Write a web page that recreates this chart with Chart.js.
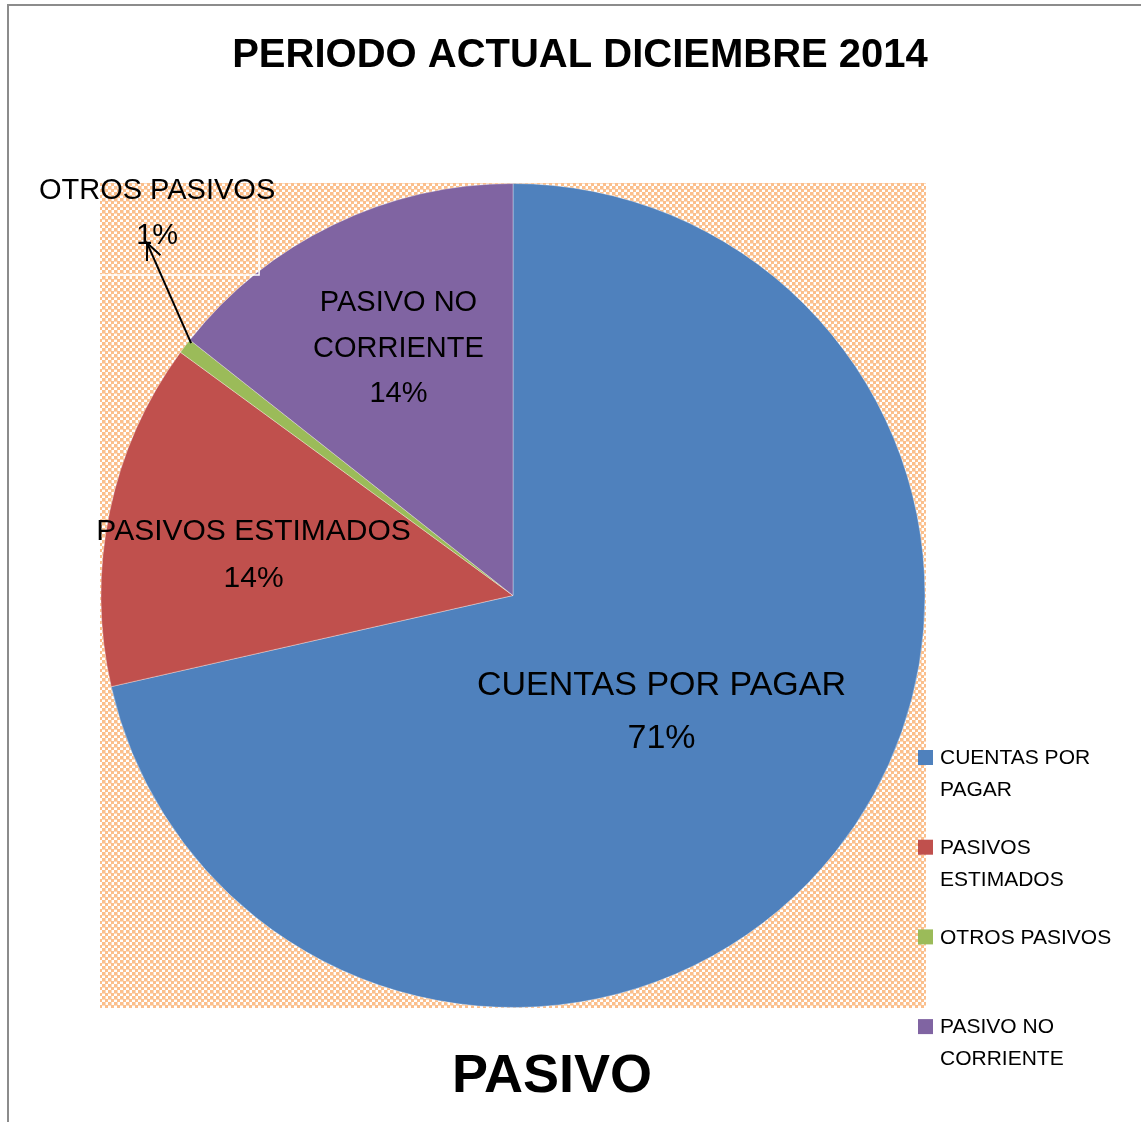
<!DOCTYPE html>
<html>
<head>
<meta charset="utf-8">
<script src="https://cdn.jsdelivr.net/npm/chart.js@4"></script>
<style>
  html, body { margin: 0; padding: 0; background: #ffffff; }
  #wrap { position: absolute; left: 0; top: 0; width: 1141px; height: 1122px; }
</style>
</head>
<body>
<div id="wrap"><canvas id="c" width="1141" height="1122"></canvas></div>
<script>
// ---- data ----
const categories = ['CUENTAS POR PAGAR', 'PASIVOS ESTIMADOS', 'OTROS PASIVOS', 'PASIVO NO CORRIENTE'];
const values = [71.45, 13.6, 0.6, 14.35];
const sliceColors = ['#4F81BD', '#C0504D', '#9BBB59', '#8064A2'];
const chartTitle = 'PERIODO ACTUAL DICIEMBRE 2014';
const bottomTitle = 'PASIVO';

const FONT = '"Liberation Sans", Arial, sans-serif';

function makePattern(ctx) {
  const t = document.createElement('canvas');
  t.width = 6; t.height = 6;
  const g = t.getContext('2d');
  g.fillStyle = '#FFFFFF';
  g.fillRect(0, 0, 6, 6);
  g.fillStyle = '#FBBF8C';
  g.fillRect(0, 0, 3, 3);
  g.fillRect(3, 3, 3, 3);
  g.fillStyle = '#FDDCBF';
  g.fillRect(3, 0, 1, 3);
  g.fillRect(0, 3, 3, 1);
  return ctx.createPattern(t, 'repeat');
}

function wrapLines(ctx, text, maxW) {
  const words = text.split(' ');
  const lines = [];
  let cur = '';
  words.forEach(w => {
    const test = cur ? cur + ' ' + w : w;
    if (cur && ctx.measureText(test).width > maxW) { lines.push(cur); cur = w; }
    else cur = test;
  });
  if (cur) lines.push(cur);
  return lines;
}

const decor = {
  id: 'decor',
  beforeDraw(chart) {
    const ctx = chart.ctx;
    const a = chart.chartArea;
    ctx.save();
    ctx.fillStyle = '#ffffff';
    ctx.fillRect(0, 0, chart.width, chart.height);
    // outer border (left + top visible)
    ctx.strokeStyle = '#8C8C8C';
    ctx.lineWidth = 2;
    ctx.beginPath();
    ctx.moveTo(8, chart.height);
    ctx.lineTo(8, 5);
    ctx.lineTo(chart.width, 5);
    ctx.stroke();
    // plot area pattern
    ctx.fillStyle = makePattern(ctx);
    ctx.fillRect(a.left, a.top, a.right - a.left, a.bottom - a.top);
    ctx.restore();
  },
  afterDatasetsDraw(chart) {
    const ctx = chart.ctx;
    const a = chart.chartArea;
    const meta = chart.getDatasetMeta(0);
    const total = values.reduce((s, v) => s + v, 0);
    const opts = chart.options.plugins.decor;
    ctx.save();
    ctx.fillStyle = '#000000';
    ctx.textAlign = 'center';
    ctx.textBaseline = 'middle';
    meta.data.forEach((arc, i) => {
      const p = arc.getProps(['startAngle', 'endAngle', 'x', 'y', 'outerRadius'], true);
      const mid = (p.startAngle + p.endAngle) / 2;
      const pct = Math.round(values[i] / total * 100) + '%';
      const st = opts.labels[i];
      ctx.font = st.size + 'px ' + FONT;
      const lines = wrapLines(ctx, categories[i], st.wrap).concat([pct]);
      let cx, cy;
      if (st.outside) {
        const ex = p.x + Math.cos(mid) * p.outerRadius;
        const ey = p.y + Math.sin(mid) * p.outerRadius;
        cx = ex + st.dx; cy = ey + st.dy;
        // white label box
        ctx.strokeStyle = '#ffffff';
        ctx.lineWidth = 1.5;
        ctx.beginPath();
        ctx.moveTo(cx + 102, cy - 7);
        ctx.lineTo(cx + 102, cy + 62);
        ctx.lineTo(a.left, cy + 62);
        ctx.stroke();
        // leader with arrow
        const tx = ex + st.ax, ty = ey + st.ay;
        ctx.strokeStyle = '#000000';
        ctx.lineWidth = 2;
        ctx.beginPath();
        ctx.moveTo(ex + 6, ey - 3);
        ctx.lineTo(tx, ty);
        ctx.stroke();
        const ang = Math.atan2(ty - (ey - 3), tx - (ex + 6));
        ctx.beginPath();
        ctx.moveTo(tx + Math.cos(ang + Math.PI - 0.42) * 18, ty + Math.sin(ang + Math.PI - 0.42) * 18);
        ctx.lineTo(tx, ty);
        ctx.lineTo(tx + Math.cos(ang + Math.PI + 0.42) * 18, ty + Math.sin(ang + Math.PI + 0.42) * 18);
        ctx.stroke();
      } else {
        cx = p.x + Math.cos(mid) * p.outerRadius * st.f + (st.dx || 0);
        cy = p.y + Math.sin(mid) * p.outerRadius * st.f + (st.dy || 0);
      }
      const lh = st.lh;
      const y0 = cy - (lines.length - 1) * lh / 2;
      ctx.fillStyle = '#000000';
      lines.forEach((ln, k) => ctx.fillText(ln, cx, y0 + k * lh));
    });

    // title
    ctx.font = 'bold 40px ' + FONT;
    ctx.fillText(chartTitle, 580, 56);
    // bottom title
    ctx.font = 'bold 54px ' + FONT;
    ctx.fillText(bottomTitle, 552, 1077);

    // legend
    ctx.font = '21px ' + FONT;
    ctx.textAlign = 'left';
    categories.forEach((c, i) => {
      const yc = 757.5 + i * 89.7;
      ctx.fillStyle = sliceColors[i];
      ctx.fillRect(918, yc - 7.5, 15, 15);
      ctx.fillStyle = '#000000';
      const lines = wrapLines(ctx, c, 180);
      lines.forEach((ln, k) => ctx.fillText(ln, 940, yc + 1 + k * 32));
    });
    ctx.restore();
  }
};

new Chart(document.getElementById('c'), {
  type: 'pie',
  data: {
    labels: categories,
    datasets: [{
      data: values,
      backgroundColor: sliceColors,
      borderColor: 'rgba(255,255,255,0.35)',
      borderWidth: 1
    }]
  },
  options: {
    responsive: false,
    animation: false,
    rotation: 0,
    layout: { padding: { left: 100, right: 215, top: 183, bottom: 114 } },
    plugins: {
      legend: { display: false },
      tooltip: { enabled: false },
      title: { display: false },
      decor: {
        labels: [
          { f: 0.452, size: 34, lh: 53, wrap: 500, dx: 3 },
          { f: 0.638, size: 30, lh: 47, wrap: 500, dx: -2, dy: 13 },
          { outside: true, size: 29, lh: 45, wrap: 500, dx: -28, dy: -133, ax: -38, ay: -103 },
          { f: 0.666, size: 29, lh: 45.5, wrap: 200, dx: 5 }
        ]
      }
    }
  },
  plugins: [decor]
});
</script>
</body>
</html>
